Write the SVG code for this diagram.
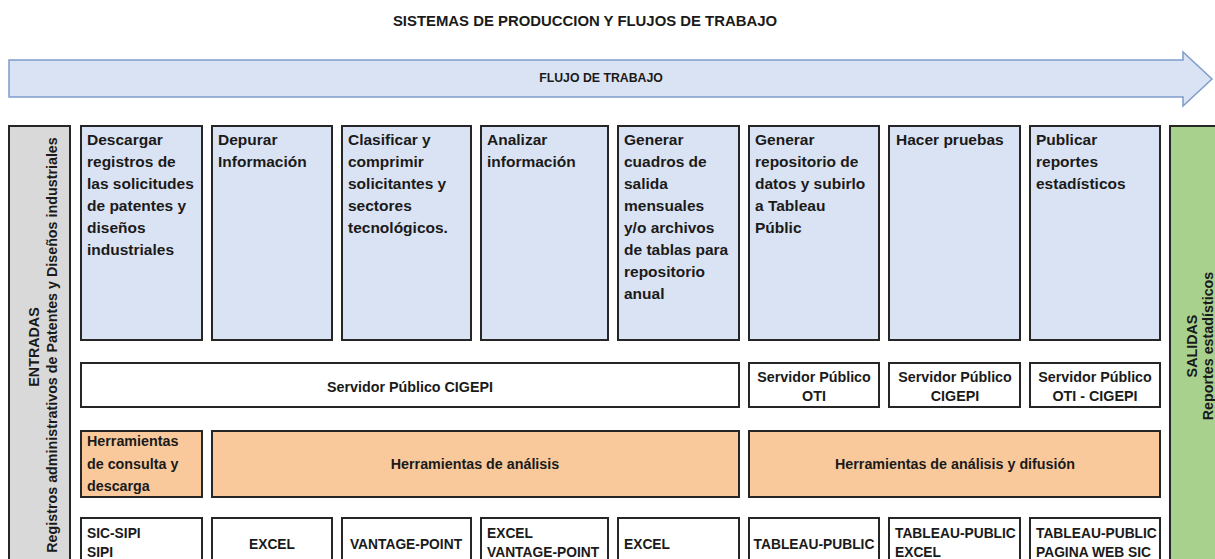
<svg xmlns="http://www.w3.org/2000/svg" width="1215" height="559" viewBox="0 0 1215 559">
<style>
text{font-family:"Liberation Sans",Arial,sans-serif;font-weight:bold;fill:#1a1a1a}
.box{stroke:#262626;stroke-width:2}
.step{fill:#dae3f3}
.white{fill:#ffffff}
.peach{fill:#f9c99b}
.st{font-size:15.5px}
.sm{font-size:14.3px}
.tl{font-size:13.8px}
.c{text-anchor:middle}
</style>
<rect width="1215" height="559" fill="#ffffff"/>
<text x="585" y="26" class="c" font-size="14.9">SISTEMAS DE PRODUCCION Y FLUJOS DE TRABAJO</text>
<g id="flujo">
<path d="M9,60 L1183,60 L1183,52 L1212,79 L1183,106 L1183,97 L9,97 Z" fill="#dae3f3" stroke="#7f9ccb" stroke-width="1.5"/>
<text x="601" y="82" class="c" font-size="12.3">FLUJO DE TRABAJO</text>
</g>
<g id="entradas">
<rect x="9" y="126" width="61" height="440" fill="#d9d9d9" class="box"/>
<text transform="translate(39,347) rotate(-90)" class="c sm">ENTRADAS</text>
<text transform="translate(57,345) rotate(-90)" class="c sm">Registros administrativos de Patentes y Diseños industriales</text>
</g>
<g id="salidas">
<rect x="1170" y="126" width="60" height="440" fill="#a9d18e" class="box"/>
<text transform="translate(1197,346) rotate(-90)" class="c sm">SALIDAS</text>
<text transform="translate(1213,346) rotate(-90)" class="c sm">Reportes estadísticos</text>
</g>
<g id="step1"><rect x="81" y="126" width="121" height="214" class="box step"/>
<text class="st" x="87"><tspan x="87" y="145">Descargar</tspan><tspan x="87" y="167">registros de</tspan><tspan x="87" y="189">las solicitudes</tspan><tspan x="87" y="211">de patentes y</tspan><tspan x="87" y="233">diseños</tspan><tspan x="87" y="255">industriales</tspan></text></g>
<g id="step2"><rect x="212" y="126" width="120" height="214" class="box step"/>
<text class="st"><tspan x="218" y="145">Depurar</tspan><tspan x="218" y="167">Información</tspan></text></g>
<g id="step3"><rect x="342" y="126" width="129" height="214" class="box step"/>
<text class="st"><tspan x="348" y="145">Clasificar y</tspan><tspan x="348" y="167">comprimir</tspan><tspan x="348" y="189">solicitantes y</tspan><tspan x="348" y="211">sectores</tspan><tspan x="348" y="233">tecnológicos.</tspan></text></g>
<g id="step4"><rect x="481" y="126" width="127" height="214" class="box step"/>
<text class="st"><tspan x="487" y="145">Analizar</tspan><tspan x="487" y="167">información</tspan></text></g>
<g id="step5"><rect x="618" y="126" width="121" height="214" class="box step"/>
<text class="st"><tspan x="624" y="145">Generar</tspan><tspan x="624" y="167">cuadros de</tspan><tspan x="624" y="189">salida</tspan><tspan x="624" y="211">mensuales</tspan><tspan x="624" y="233">y/o archivos</tspan><tspan x="624" y="255">de tablas para</tspan><tspan x="624" y="277">repositorio</tspan><tspan x="624" y="299">anual</tspan></text></g>
<g id="step6"><rect x="749" y="126" width="130" height="214" class="box step"/>
<text class="st"><tspan x="755" y="145">Generar</tspan><tspan x="755" y="167">repositorio de</tspan><tspan x="755" y="189">datos y subirlo</tspan><tspan x="755" y="211">a Tableau</tspan><tspan x="755" y="233">Públic</tspan></text></g>
<g id="step7"><rect x="889" y="126" width="131" height="214" class="box step"/>
<text class="st"><tspan x="896" y="145">Hacer pruebas</tspan></text></g>
<g id="step8"><rect x="1030" y="126" width="130" height="214" class="box step"/>
<text class="st"><tspan x="1036" y="145">Publicar</tspan><tspan x="1036" y="167">reportes</tspan><tspan x="1036" y="189">estadísticos</tspan></text></g>
<g id="serv1"><rect x="81" y="363" width="658" height="44" class="box white"/>
<text x="410" y="392" class="c sm">Servidor Público CIGEPI</text></g>
<g id="serv2"><rect x="749" y="363" width="130" height="44" class="box white"/>
<text class="c sm"><tspan x="814" y="382">Servidor Público</tspan><tspan x="814" y="401">OTI</tspan></text></g>
<g id="serv3"><rect x="889" y="363" width="131" height="44" class="box white"/>
<text class="c sm"><tspan x="955" y="382">Servidor Público</tspan><tspan x="955" y="401">CIGEPI</tspan></text></g>
<g id="serv4"><rect x="1030" y="363" width="130" height="44" class="box white"/>
<text class="c sm"><tspan x="1095" y="382">Servidor Público</tspan><tspan x="1095" y="401">OTI - CIGEPI</tspan></text></g>
<g id="herr1"><rect x="81" y="431" width="121" height="66" class="box peach"/>
<text class="sm"><tspan x="87" y="446">Herramientas</tspan><tspan x="87" y="469">de consulta y</tspan><tspan x="87" y="491">descarga</tspan></text></g>
<g id="herr2"><rect x="212" y="431" width="527" height="66" class="box peach"/>
<text x="475" y="469" class="c sm">Herramientas de análisis</text></g>
<g id="herr3"><rect x="749" y="431" width="411" height="66" class="box peach"/>
<text x="955" y="469" class="c sm">Herramientas de análisis y difusión</text></g>
<g id="tool1"><rect x="81" y="518" width="121" height="50" class="box white"/>
<text class="tl"><tspan x="87" y="538">SIC-SIPI</tspan><tspan x="87" y="557">SIPI</tspan></text></g>
<g id="tool2"><rect x="212" y="518" width="120" height="50" class="box white"/>
<text x="272" y="549" class="c tl">EXCEL</text></g>
<g id="tool3"><rect x="342" y="518" width="129" height="50" class="box white"/>
<text x="406" y="549" class="c tl">VANTAGE-POINT</text></g>
<g id="tool4"><rect x="481" y="518" width="127" height="50" class="box white"/>
<text class="tl"><tspan x="487" y="538">EXCEL</tspan><tspan x="487" y="557">VANTAGE-POINT</tspan></text></g>
<g id="tool5"><rect x="618" y="518" width="121" height="50" class="box white"/>
<text x="624" y="549" class="tl">EXCEL</text></g>
<g id="tool6"><rect x="749" y="518" width="130" height="50" class="box white"/>
<text x="814" y="549" class="c tl">TABLEAU-PUBLIC</text></g>
<g id="tool7"><rect x="889" y="518" width="131" height="50" class="box white"/>
<text class="tl"><tspan x="895" y="538">TABLEAU-PUBLIC</tspan><tspan x="895" y="557">EXCEL</tspan></text></g>
<g id="tool8"><rect x="1030" y="518" width="130" height="50" class="box white"/>
<text class="tl"><tspan x="1036" y="538">TABLEAU-PUBLIC</tspan><tspan x="1036" y="557">PAGINA WEB SIC</tspan></text></g>
</svg>
